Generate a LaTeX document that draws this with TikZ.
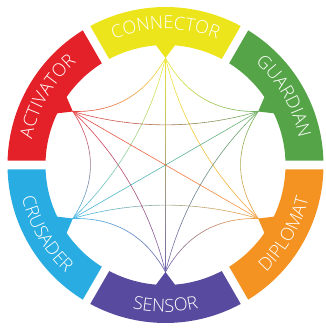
\documentclass[tikz,border=0pt]{standalone}
\usepackage{fontspec}
\newfontfamily\labelfont{Open Sans Light}
\usetikzlibrary{calc,decorations.text}
\definecolor{cyel}{RGB}{236,229,28}
\definecolor{cgrn}{RGB}{86,164,72}
\definecolor{corg}{RGB}{244,146,34}
\definecolor{cpur}{RGB}{88,74,158}
\definecolor{cblu}{RGB}{40,172,226}
\definecolor{cred}{RGB}{228,32,40}
\newcommand\lblfmt{\labelfont\fontsize{18}{18}\selectfont}
\tikzset{
  curvepiece/.style={line width=0.6pt, line cap=round},
  lbl/.style={decorate, decoration={text along path, text align=center, text color=white}},
}
% gradient quadratic curve between two named tips
\newcommand\gcurve[5]{%
  \coordinate (gc) at ($(O)!#5!($(#1)!0.5!(#2)$)$);
  \foreach \k in {0,...,29}{
    \pgfmathsetmacro\ta{\k/30}
    \pgfmathsetmacro\tb{(\k+1)/30}
    \pgfmathtruncatemacro\mix{100-(\k+0.5)/30*100}
    \draw[curvepiece, draw=#3!\mix!#4!85!white]
      ($($(#1)!\ta!(gc)$)!\ta!($(gc)!\ta!(#2)$)$) --
      ($($(#1)!\tb!(gc)$)!\tb!($(gc)!\tb!(#2)$)$);
  }
}
\begin{document}
\begin{tikzpicture}[x=1pt,y=1pt]
\useasboundingbox (-165.5,-163) rectangle (159.5,165);
\coordinate (O) at (0,0);
\foreach \a/\n in {90/con,30/gua,-30/dip,-90/sen,-150/cru,150/act}{
  \coordinate (\n) at (\a:107);
}
% connectors
\gcurve{con}{gua}{cyel}{cgrn}{0.65}
\gcurve{gua}{dip}{cgrn}{corg}{0.62}
\gcurve{dip}{sen}{corg}{cpur}{0.65}
\gcurve{sen}{cru}{cpur}{cblu}{0.65}
\gcurve{cru}{act}{cblu}{cred}{0.62}
\gcurve{act}{con}{cred}{cyel}{0.65}
\gcurve{con}{dip}{cyel}{corg}{0.5}
\gcurve{gua}{sen}{cgrn}{cpur}{0.5}
\gcurve{dip}{cru}{corg}{cblu}{0.5}
\gcurve{sen}{act}{cpur}{cred}{0.5}
\gcurve{cru}{con}{cblu}{cyel}{0.5}
\gcurve{act}{gua}{cred}{cgrn}{0.5}
\gcurve{con}{sen}{cyel}{cpur}{1}
\gcurve{gua}{cru}{cgrn}{cblu}{1}
\gcurve{dip}{act}{corg}{cred}{1}
% segments
\foreach \a/\c in {90/cyel,30/cgrn,-30/corg,-90/cpur,-150/cblu,150/cred}{
  \fill[\c] ({\a+30-1.56}:158) arc[start angle={\a+30-1.56}, end angle={\a-30+1.56}, radius=158]
    -- ({\a-30+2.05}:120) arc[start angle={\a-30+2.05}, end angle={\a-4.5}, radius=120]
    -- (\a:107) -- ({\a+4.5}:120)
    arc[start angle={\a+4.5}, end angle={\a+30-2.05}, radius=120] -- cycle;
}
% labels
\path[lbl, decoration={text={|\lblfmt|CONNECTOR}}] (120:136) arc[start angle=120, end angle=60, radius=136];
\path[lbl, decoration={text={|\lblfmt|GUARDIAN}}] (60:136) arc[start angle=60, end angle=0, radius=136];
\path[lbl, decoration={text={|\lblfmt|ACTIVATOR}}] (180:136) arc[start angle=180, end angle=120, radius=136];
\path[lbl, decoration={text={|\lblfmt|DIPLOMAT}}] (-60:147) arc[start angle=-60, end angle=0, radius=147];
\path[lbl, decoration={text={|\lblfmt|SENSOR}}] (-120:147) arc[start angle=-120, end angle=-60, radius=147];
\path[lbl, decoration={text={|\lblfmt|CRUSADER}}] (-180:147) arc[start angle=-180, end angle=-120, radius=147];
\end{tikzpicture}
\end{document}
